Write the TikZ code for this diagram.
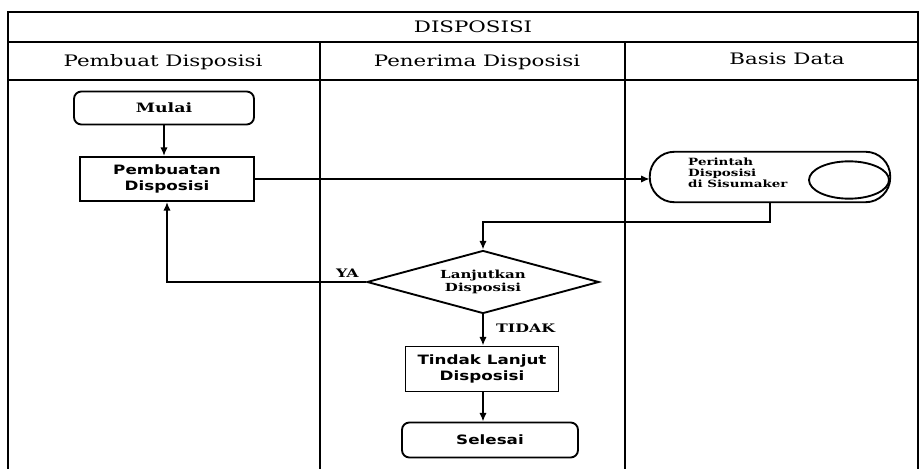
\documentclass[tikz,border=0pt]{standalone}
\usepackage{fontspec}
\setmainfont{DejaVu Serif}[FakeStretch=1.35]
\newfontfamily\boxfont{DejaVu Sans}[FakeStretch=1.3]
\usetikzlibrary{shapes,arrows,positioning,calc,arrows.meta}

\begin{document}
\begin{tikzpicture}[x=0.3mm, y=-0.3mm,
    lane/.style={line width=1.3pt},
    head/.style={font=\fontsize{13.5}{15}\selectfont},
    proc/.style={draw, line width=1.6pt, align=center, inner sep=0pt,
        font=\boxfont\bfseries\fontsize{11}{14}\selectfont},
    term/.style={proc, rounded corners=2.2mm},
    dec/.style={draw, diamond, line width=1.6pt, aspect=3.7, inner sep=0pt,
        minimum width=69.6mm, minimum height=18.9mm, align=center,
        font=\bfseries\fontsize{9.5}{11}\selectfont},
    lbl/.style={font=\bfseries\fontsize{10}{12}\selectfont},
    arr/.style={-{Latex[length=2.6mm,width=2.2mm]}, line width=1.8pt}]
    \useasboundingbox (0,0) rectangle (924,469);

    % swimlane frame
    \draw[lane] (8,469) -- (8,12) -- (918,12) -- (918,469);
    \draw[lane] (8,42) -- (918,42);
    \draw[lane] (8,80) -- (918,80);
    \draw[lane] (320,42) -- (320,469);
    \draw[lane] (625,42) -- (625,469);
    \node[head] (judul) at (473,27) {DISPOSISI};
    \node[head] (pembuat) at (163,62) {Pembuat Disposisi};
    \node[head] (penerima) at (477,62) {Penerima Disposisi};
    \node[head] (basis) at (787,59) {Basis Data};

    % flow nodes
    \node[term, minimum width=54mm, minimum height=9.9mm,
        font=\bfseries\fontsize{11}{13}\selectfont] (mulai) at (164,108) {Mulai};
    \node[proc, minimum width=52.2mm, minimum height=13.2mm] (buat) at (167,179)
        {Pembuatan\\Disposisi};
    \node[dec] (cek) at (483,282) {Lanjutkan\\Disposisi};
    \node[proc, minimum width=45.9mm, minimum height=13.5mm] (tindak) at (482,369)
        {Tindak Lanjut\\Disposisi};
    \node[term, minimum width=52.8mm, minimum height=10.5mm] (selesai) at (490,440) {Selesai};

    % database (horizontal cylinder)
    \node[minimum width=72mm, minimum height=15mm, inner sep=0pt] (db) at (770,177) {};
    \draw[line width=1.6pt, rounded corners=7.4mm] (db.north west) rectangle (db.south east);
    \draw[line width=1.6pt] (849,180) ellipse [x radius=12mm, y radius=5.6mm];
    \node[anchor=west, align=left, inner sep=0pt,
        font=\bfseries\fontsize{8.5}{9.5}\selectfont] (dbteks) at (688,173)
        {Perintah\\Disposisi\\di Sisumaker};

    % connectors
    \draw[arr] (mulai.south) -- (mulai.south |- buat.north);
    \draw[arr] (buat.east) -- (buat.east -| db.west);
    \draw[arr] (db.south) -- ++(0,20) -| (cek.north);
    \draw[arr] (cek.west) -| (buat.south);
    \node[lbl, anchor=south east] (ya) at ([xshift=-1mm]cek.west) {YA};
    \draw[arr] (cek.south) -- (tindak.north -| cek.south);
    \node[lbl, anchor=west] (tidak) at (492,328) {TIDAK};
    \draw[arr] (tindak.south -| cek.south) -- (selesai.north -| cek.south);
\end{tikzpicture}
\end{document}
